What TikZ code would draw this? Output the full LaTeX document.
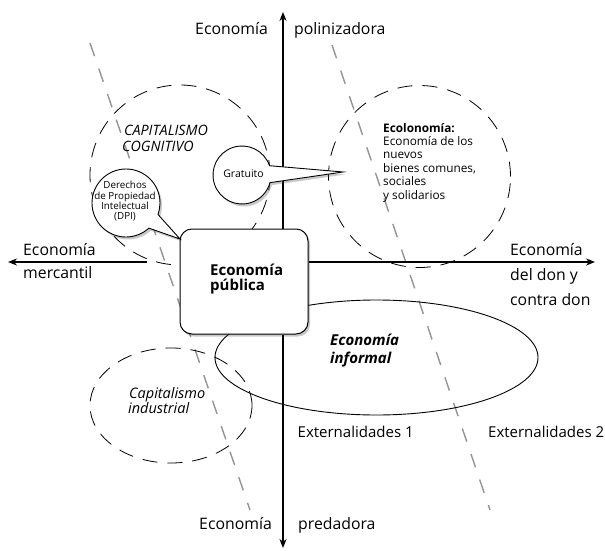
\documentclass[tikz,border=0pt]{standalone}
\usepackage{fontspec}
\setmainfont{Open Sans}
\usetikzlibrary{arrows.meta,shapes.callouts,shapes.geometric,shadows}
\begin{document}
\begin{tikzpicture}[x=1pt,y=-1pt,
  axisarrow/.style={line width=1.6pt, -{Stealth[length=9pt,width=7pt]}},
  grayline/.style={draw=black!42, line width=1.4pt, dash pattern=on 14pt off 13pt},
  dcirc/.style={circle, draw, line width=0.8pt, dash pattern=on 15pt off 10pt, inner sep=0pt},
  dellipse/.style={ellipse, draw, line width=0.8pt, dash pattern=on 15pt off 10pt, inner sep=0pt},
  softshadow/.style={drop shadow={shadow xshift=2pt, shadow yshift=-2.5pt, opacity=0.3, fill=black!70}},
  bubble/.style={ellipse callout, draw, fill=white, line width=0.9pt, inner sep=0pt, softshadow},
  lab/.style={font=\fontsize{15.8}{24}\selectfont, inner sep=0pt},
  extlab/.style={font=\fontsize{15}{18}\selectfont, inner sep=0pt, anchor=base west},
  regionlab/.style={font=\fontsize{14.3}{15.5}\selectfont\itshape, inner sep=0pt, align=left, anchor=base west},
]
\useasboundingbox (0,0) rectangle (605,551);

% gray dashed divider lines
\coordinate (ga1) at (90,43);
\coordinate (ga2) at (250,510);
\coordinate (gb1) at (332,45);
\coordinate (gb2) at (490,510);
\draw[grayline] (ga1) -- (ga2);
\draw[grayline] (gb1) -- (gb2);

% dashed regions
\node[dcirc, minimum size=180pt] (cogn) at (180,175) {};
\node[dcirc, minimum size=182pt] (ecol) at (419.5,176.5) {};
\node[dellipse, minimum width=162pt, minimum height=115pt] (indu) at (171,405.5) {};
\node[ellipse, draw, line width=0.9pt, inner sep=0pt, minimum width=323pt, minimum height=115pt] (info) at (376.5,357.5) {};

% central box
\node[draw, fill=white, line width=1pt, rounded corners=12pt, minimum width=128pt, minimum height=105pt,
      softshadow] (pub) at (244,281.5) {};
\node[font=\fontsize{15}{15}\selectfont\bfseries, inner sep=0pt, align=left, anchor=base west] (pubt) at (210,290)
      {Economía\\pública};

% axes
\coordinate (top) at (283,12);
\coordinate (bot) at (283,548);
\coordinate (lft) at (8,262);
\coordinate (lstart) at (147,262);
\coordinate (rgt) at (595,262);
\draw[axisarrow] (pub.north -| top) -- (top);
\draw[axisarrow] (pub.south -| bot) -- (bot);
\draw[axisarrow] (pub.east |- rgt) -- (rgt);
\draw[axisarrow] (lstart) -- (lft);

% callouts
\node[bubble, minimum width=58pt, minimum height=58pt, callout absolute pointer={(343,172)}, callout pointer arc=34] (grat) at (242,175) {};
\node[font=\fontsize{10.5}{12}\selectfont, inner sep=0pt, anchor=base] (gratt) at (243.5,177.5) {Gratuito};
\node[bubble, minimum width=68pt, minimum height=68pt, callout absolute pointer={(180,239)}, callout pointer arc=28] (dpi) at (126,203) {};
\node[font=\fontsize{9.8}{10.2}\selectfont, inner sep=0pt, align=center, anchor=base] (dpit) at (125,219.5)
  {Derechos\\de Propiedad\\Intelectual\\(DPI)};

% axis labels
\node[lab, anchor=base east] (tl) at (268,35) {Economía};
\node[lab, anchor=base west] (tr) at (294,35) {polinizadora};
\node[lab, anchor=base east] (bl) at (272,529) {Economía};
\node[lab, anchor=base west] (br) at (298,529) {predadora};
\node[lab, anchor=base west] (l1) at (23,255) {Economía};
\node[lab, anchor=base west] (l2) at (23,278) {mercantil};
\node[lab, anchor=base west] (r1) at (510,255) {Economía};
\node[lab, anchor=base west] (r2) at (510,280) {del don y};
\node[lab, anchor=base west] (r3) at (510,305) {contra don};
\node[extlab] (ex1) at (297.5,437) {Externalidades 1};
\node[extlab] (ex2) at (488,437) {Externalidades 2};

% region labels
\node[regionlab] (cc1) at (124,135) {CAPITALISMO};
\node[regionlab] (cc2) at (122,151) {COGNITIVO};
\node[regionlab, font=\fontsize{14.5}{15.5}\selectfont\itshape] (ci1) at (129,398) {Capitalismo};
\node[regionlab, font=\fontsize{14.5}{15.5}\selectfont\itshape] (ci2) at (128,413.5) {industrial};
\node[font=\fontsize{15}{18}\selectfont\bfseries\itshape, inner sep=0pt, anchor=base west] (ei1) at (330,345) {Economía};
\node[font=\fontsize{15}{18}\selectfont\bfseries\itshape, inner sep=0pt, anchor=base west] (ei2) at (330,363) {informal};
\node[font=\fontsize{11.8}{13.4}\selectfont, inner sep=0pt, align=left, anchor=base west] (ecot) at (383,199)
  {\textbf{Ecolonomía:}\\Economía de los\\nuevos\\bienes comunes,\\sociales\\y solidarios};
\end{tikzpicture}
\end{document}
